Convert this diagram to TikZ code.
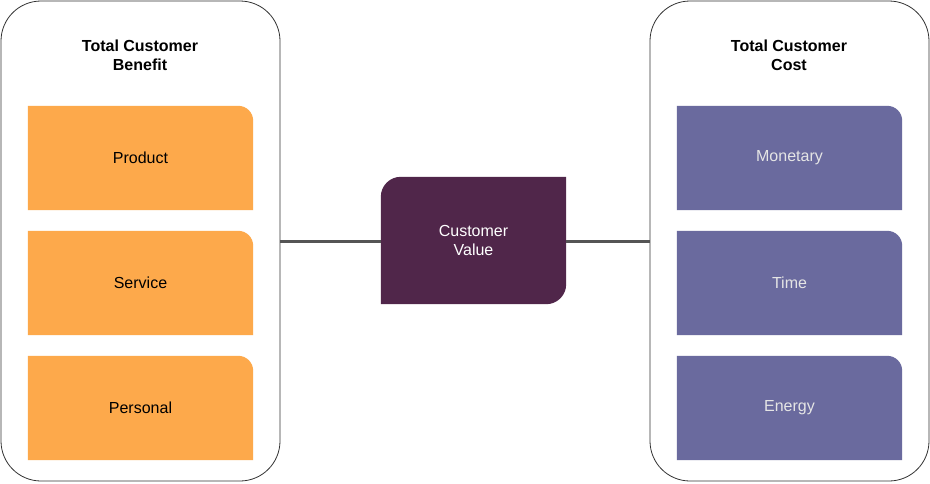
\documentclass[tikz,border=0pt]{standalone}
\usepackage{fontspec}
\setmainfont{Liberation Sans}
\usetikzlibrary{positioning}
\definecolor{benefitorange}{HTML}{FDA94B}
\definecolor{costpurple}{HTML}{6A6A9E}
\definecolor{valueplum}{HTML}{50264A}
\definecolor{linkgray}{HTML}{555555}
\tikzset{
  panel/.style={draw=black!80, line width=0.8pt, rounded corners=40pt, fill=white},
  item/.style={minimum width=225pt, minimum height=104pt, inner sep=0pt, font=\fontsize{16}{19}\selectfont},
  title/.style={font=\bfseries\fontsize{16}{19}\selectfont, align=center},
  link/.style={draw=linkgray, line width=3pt}
}
\begin{document}
\begin{tikzpicture}[x=1pt,y=-1pt]
  \useasboundingbox (0,0) rectangle (930,483);

  % containers
  \draw[panel] (1,1) rectangle (280,481);
  \draw[panel] (650,1) rectangle (929,481);
  \node[title] (benefit) at (140,55) {Total Customer\\Benefit};
  \node[title] (cost) at (789,55) {Total Customer\\Cost};

  % benefit items
  \foreach \name/\txt/\y in {product/Product/158, service/Service/283, personal/Personal/408} {
    \node[item] (\name) at (140.5,\y) {};
    \fill[benefitorange] (\name.south west) -- (\name.north west)
      [rounded corners=15pt] -- (\name.north east) [sharp corners] -- (\name.south east) -- cycle;
    \node[font=\fontsize{16}{19}\selectfont] at (\name) {\txt};
  }

  % cost items
  \foreach \name/\txt/\y in {monetary/Monetary/158, time/Time/283, energy/Energy/408} {
    \node[item] (\name) at (789.5,\y) {};
    \fill[costpurple] (\name.south west) -- (\name.north west)
      [rounded corners=15pt] -- (\name.north east) [sharp corners] -- (\name.south east) -- cycle;
    \node[font=\fontsize{16}{19}\selectfont, text=white!90!black] at (\name) {\txt};
  }

  % centre
  \node[minimum width=185pt, minimum height=127pt, inner sep=0pt] (value) at (473.5,240.5) {};
  \fill[valueplum] (value.south west) [rounded corners=20pt] -- (value.north west) [sharp corners]
    -- (value.north east) [rounded corners=20pt] -- (value.south east) [sharp corners] -- cycle;
  \node[font=\fontsize{16}{19}\selectfont, text=white, align=center] at (value) {Customer\\Value};

  \coordinate (leftedge) at (280,241);
  \coordinate (rightedge) at (650,241);
  \draw[link] (leftedge) -- (value.west |- leftedge);
  \draw[link] (value.east |- rightedge) -- (rightedge);
\end{tikzpicture}
\end{document}
